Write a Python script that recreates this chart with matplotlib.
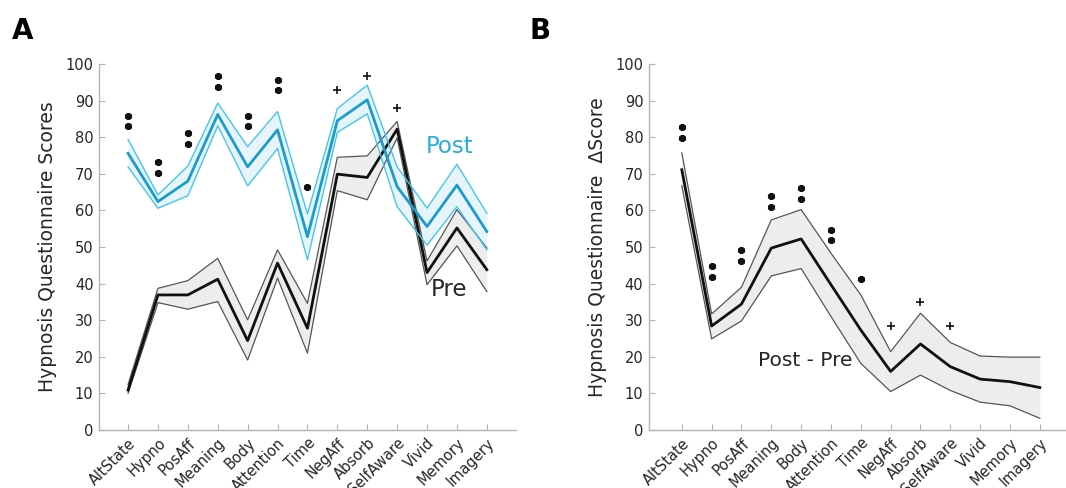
import matplotlib.pyplot as plt
import numpy as np

plt.rcParams["font.family"] = "DejaVu Sans"

scales = ["AltState", "Hypno", "PosAff", "Meaning", "Body", "Attention", "Time",
          "NegAff", "Absorb", "SelfAware", "Vivid", "Memory", "Imagery"]

# panel A: pre / post scores, mean with upper and lower band edges
post_mean = [75.6, 62.4, 68.0, 86.2, 71.9, 82.0, 52.8, 84.5, 90.2, 66.5, 55.6, 66.9, 54.2]
post_hi   = [79.4, 64.2, 72.1, 89.3, 77.4, 87.0, 59.0, 87.8, 94.2, 71.9, 60.6, 72.6, 59.2]
post_lo   = [71.9, 60.6, 64.0, 83.1, 66.7, 76.9, 46.5, 81.3, 86.4, 61.0, 50.5, 61.0, 49.2]

pre_mean = [10.9, 36.9, 36.9, 41.2, 24.4, 45.6, 27.8, 69.9, 69.0, 82.2, 43.0, 55.2, 43.8]
pre_hi   = [12.4, 38.7, 40.8, 46.9, 30.1, 49.2, 34.6, 74.5, 74.9, 84.3, 46.2, 60.2, 49.7]
pre_lo   = [10.0, 34.8, 33.0, 35.1, 19.1, 41.5, 21.0, 65.4, 62.9, 79.8, 39.7, 50.3, 37.8]

# panel B: post - pre
diff_mean = [71.1, 28.4, 34.4, 49.7, 52.2, 39.7, 27.3, 16.0, 23.5, 17.3, 13.9, 13.2, 11.6]
diff_hi   = [75.7, 31.7, 39.0, 57.4, 60.2, 48.3, 36.9, 21.4, 31.9, 23.9, 20.2, 19.9, 19.9]
diff_lo   = [66.7, 24.9, 29.8, 42.1, 44.1, 31.0, 18.2, 10.5, 15.0, 10.8, 7.6, 6.6, 3.2]

# significance markers: (scale index, y positions)
stars_a = {0: [83.0, 85.9], 1: [70.2, 73.1], 2: [78.1, 81.1], 3: [93.7, 96.8],
           4: [83.0, 85.9], 5: [92.8, 95.7], 6: [66.3]}
plus_a = {7: 92.8, 8: 96.8, 9: 87.9}
stars_b = {0: [79.7, 82.7], 1: [41.9, 44.8], 2: [46.3, 49.2], 3: [60.9, 63.8],
           4: [63.0, 66.0], 5: [51.8, 54.7], 6: [41.2]}
plus_b = {7: 28.3, 8: 35.1, 9: 28.3}

x = np.arange(len(scales))

BLUE = "#1b9ccb"
CYAN = "#45c6ea"
BLUE_FILL = "#e3f4fb"
GRAY_FILL = "#ededed"
AXIS_GRAY = "#b4b4b4"
TEXT = "#262626"

fig = plt.figure(figsize=(10.66, 4.88), dpi=100)
ax1 = fig.add_axes([0.0929, 0.1189, 0.391, 0.75])
ax2 = fig.add_axes([0.6088, 0.1189, 0.391, 0.75])


def style_axis(ax, xlim):
    ax.set_xlim(*xlim)
    ax.set_ylim(0, 100)
    ax.set_yticks(range(0, 101, 10))
    ax.set_xticks(x)
    ax.set_xticklabels(scales, rotation=45, ha="right", rotation_mode="anchor")
    for s in ["top", "right"]:
        ax.spines[s].set_visible(False)
    for s in ["left", "bottom"]:
        ax.spines[s].set_color(AXIS_GRAY)
        ax.spines[s].set_linewidth(1.0)
    ax.tick_params(direction="in", length=4, color=AXIS_GRAY, labelsize=10.5,
                   labelcolor=TEXT, pad=4)


def mark_sig(ax, stars, plus):
    for i, ys in stars.items():
        ax.plot([x[i]] * len(ys), ys, linestyle="none", marker=(6, 2, 0),
                ms=5, mew=2.0, color="#111111", clip_on=False)
    for i, y in plus.items():
        ax.plot(x[i], y, linestyle="none", marker="+", ms=6, mew=1.2,
                color="#111111", clip_on=False)


# ── Panel A ──────────────────────────────────────────────────────────────────
ax = ax1
ax.fill_between(x, pre_lo, pre_hi, color=GRAY_FILL, lw=0)
ax.plot(x, pre_hi, color="#555555", lw=0.9)
ax.plot(x, pre_lo, color="#555555", lw=0.9)
ax.plot(x, pre_mean, color="#111111", lw=2.0)

ax.fill_between(x, post_lo, post_hi, color=BLUE_FILL, lw=0, alpha=0.85)
ax.plot(x, post_hi, color=CYAN, lw=1.0)
ax.plot(x, post_lo, color=CYAN, lw=1.0)
ax.plot(x, post_mean, color=BLUE, lw=2.0)

mark_sig(ax, stars_a, plus_a)
ax.text(10.75, 77.4, "Post", color="#2aaed8", fontsize=16.5, ha="center", va="center")
ax.text(10.75, 38.5, "Pre", color=TEXT, fontsize=16.5, ha="center", va="center")
style_axis(ax, (-0.97, 12.97))
ax.set_ylabel("Hypnosis Questionnaire Scores", fontsize=13.5, color=TEXT, labelpad=6)

# ── Panel B ──────────────────────────────────────────────────────────────────
ax = ax2
ax.fill_between(x, diff_lo, diff_hi, color=GRAY_FILL, lw=0)
ax.plot(x, diff_hi, color="#555555", lw=0.9)
ax.plot(x, diff_lo, color="#555555", lw=0.9)
ax.plot(x, diff_mean, color="#111111", lw=2.0)

mark_sig(ax, stars_b, plus_b)
ax.text(4.15, 19.0, "Post - Pre", color=TEXT, fontsize=14.5, ha="center", va="center")
style_axis(ax, (-1.1, 12.87))
ax.set_ylabel("Hypnosis Questionnaire  \u0394Score", fontsize=13.5, color=TEXT, labelpad=6)

fig.text(0.021, 0.936, "A", fontsize=20, fontweight="bold", ha="center", va="center")
fig.text(0.507, 0.936, "B", fontsize=20, fontweight="bold", ha="center", va="center")

fig.savefig("out.png", dpi=100)
